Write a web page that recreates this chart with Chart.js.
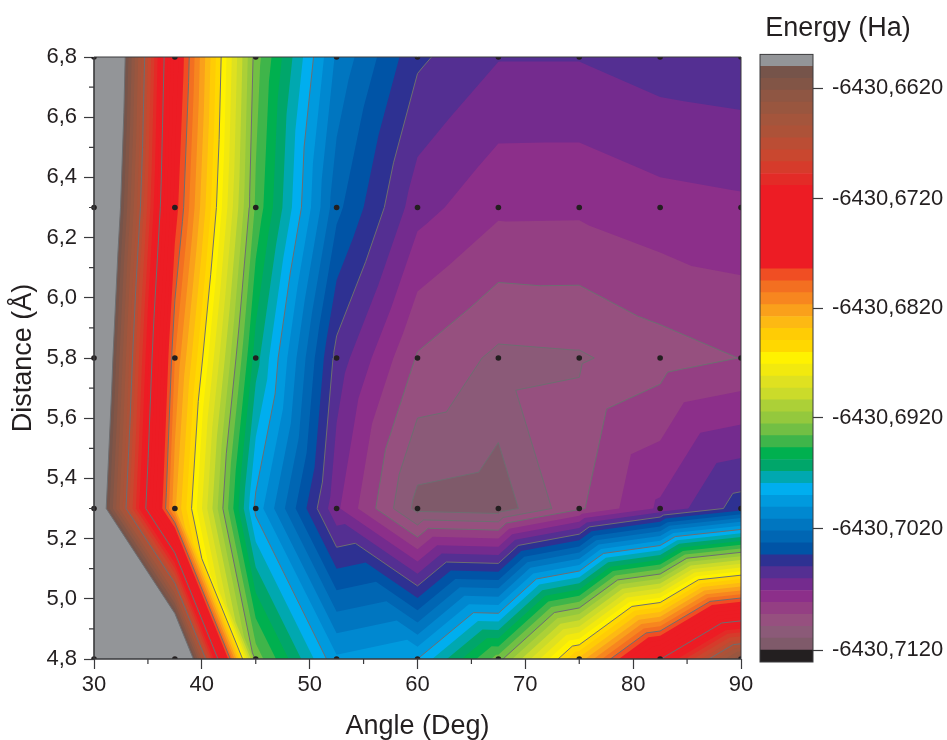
<!DOCTYPE html>
<html>
<head>
<meta charset="utf-8">
<script src="https://cdn.jsdelivr.net/npm/chart.js@4"></script>
<style>
html,body{margin:0;padding:0;background:#fff;width:947px;height:740px;overflow:hidden}
canvas{position:absolute;top:0}
#plot{left:0}
#bar{left:729px}
</style>
</head>
<body>
<canvas id="plot" width="947" height="740"></canvas>
<canvas id="bar" width="218" height="740"></canvas>
<script>
const angles = [30, 37.5, 45, 52.5, 60, 67.5, 75, 82.5, 90];
const distances = [4.8, 5.3, 5.8, 6.3, 6.8];
const energy48 = [-6430.6378, -6430.65052, -6430.69228, -6430.69907, -6430.69822, -6430.69239, -6430.68306, -6430.67289, -6430.66218];
const energy53 = [-6430.65614, -6430.68211, -6430.69854, -6430.70649, -6430.71131, -6430.71158, -6430.70900, -6430.70649, -6430.70405];
const energy58 = [-6430.65391, -6430.68020, -6430.69562, -6430.70500, -6430.70893, -6430.71012, -6430.71001, -6430.70931, -6430.70880];
const energy63 = [-6430.65158, -6430.67744, -6430.69313, -6430.70214, -6430.70628, -6430.70753, -6430.70755, -6430.70710, -6430.70691];
const energy68 = [-6430.64988, -6430.67628, -6430.69239, -6430.70055, -6430.70437, -6430.70558, -6430.70558, -6430.70511, -6430.70495];
const energyRows = [energy48, energy53, energy58, energy63, energy68];

const xMajor = [30, 40, 50, 60, 70, 80, 90];
const xMinor = [35, 45, 55, 65, 75, 85];
const yMajor = [4.8, 5.0, 5.2, 5.4, 5.6, 5.8, 6.0, 6.2, 6.4, 6.6, 6.8];
const yMinor = [4.9, 5.1, 5.3, 5.5, 5.7, 5.9, 6.1, 6.3, 6.5, 6.7];

const levelBase = -6430.712;
const levelStep = 0.00106;
const levelCount = 50;
const linedLevels = [1, 2, 3, 7, 13, 19, 25, 31, 37, 43, 49];

const bandColors = ['#231f20','#7f5a6a','#8b5a78','#96507f','#943f83','#8c2f8a','#742b8e','#542f92','#2e3192','#0054a6',
 '#0066b3','#0076c0','#0088d0','#009ade','#00aeef','#00a8b0','#00a66a','#00b04f','#3fb54a','#72bf44',
 '#94c83d','#acd037','#cbdb2a','#dfe120','#f2e90e','#fff200','#ffd800','#ffcc05','#fdb913','#faa01b',
 '#f7861f','#f36f21','#f04e23','#ed1c24','#ed1c24','#ed1c24','#ed1c24','#ed1c24','#ed1c24','#ed1c24',
 '#e32b27','#d63b2b','#c9472f','#bb4d34','#ad5238','#a4553c','#99563f','#8f5643','#825546','#76544a','#939598'];

const barTickPos = [48.15, 38.9, 29.7, 20.5, 11.2, 1.0];
const barTickLabels = ['-6430,6620','-6430,6720','-6430,6820','-6430,6920','-6430,7020','-6430,7120'];

const INK = '#231f20';
const FONT = '"Liberation Sans", Arial, sans-serif';
const levelValue = k => levelBase + k * levelStep;

// triangles of the grid, with the diagonal running from upper-left to lower-right
function gridTriangles() {
  const out = [];
  for (let j = 0; j < distances.length - 1; j++) {
    for (let i = 0; i < angles.length - 1; i++) {
      const p = (a, b) => ({x: angles[a], y: distances[b], v: energyRows[b][a]});
      out.push([p(i, j + 1), p(i + 1, j + 1), p(i + 1, j)]);
      out.push([p(i, j + 1), p(i, j), p(i + 1, j)]);
    }
  }
  return out;
}
const triangles = gridTriangles();
const cross = (a, b, L) => {
  const t = (L - a.v) / (b.v - a.v);
  return {x: a.x + (b.x - a.x) * t, y: a.y + (b.y - a.y) * t};
};
function clipAbove(tri, L) {
  const out = [];
  for (let i = 0; i < 3; i++) {
    const a = tri[i], b = tri[(i + 1) % 3];
    if (a.v >= L) out.push(a);
    if ((a.v >= L) !== (b.v >= L)) out.push(cross(a, b, L));
  }
  return out;
}
function contourPoints(L) {
  const pts = [];
  triangles.forEach(tri => {
    const seg = [];
    for (let i = 0; i < 3; i++) {
      const a = tri[i], b = tri[(i + 1) % 3];
      if ((a.v >= L) !== (b.v >= L)) seg.push(cross(a, b, L));
    }
    if (seg.length === 2) pts.push(seg[0], seg[1], {x: NaN, y: NaN});
  });
  return pts;
}

const contourFill = {
  id: 'contourFill',
  beforeDatasetsDraw(chart) {
    const {ctx, chartArea: c, scales: {x, y}} = chart;
    ctx.save();
    ctx.beginPath();
    ctx.rect(c.left, c.top, c.width, c.height);
    ctx.clip();
    ctx.fillStyle = bandColors[0];
    ctx.fillRect(c.left, c.top, c.width, c.height);
    for (let k = 0; k < levelCount; k++) {
      const L = levelValue(k);
      ctx.beginPath();
      triangles.forEach(tri => {
        const poly = clipAbove(tri, L);
        if (poly.length < 3) return;
        poly.forEach((q, n) => {
          const px = x.getPixelForValue(q.x), py = y.getPixelForValue(q.y);
          if (n === 0) ctx.moveTo(px, py); else ctx.lineTo(px, py);
        });
        ctx.closePath();
      });
      ctx.fillStyle = bandColors[k + 1];
      ctx.fill();
    }
    ctx.restore();
  },
  afterDatasetsDraw(chart) {
    const {ctx, chartArea: c, scales: {x, y}} = chart;
    ctx.save();
    ctx.strokeStyle = '#3a3a3c';
    ctx.lineWidth = 1;
    ctx.beginPath();
    ctx.moveTo(c.left, c.top); ctx.lineTo(c.right, c.top); ctx.lineTo(c.right, c.bottom);
    ctx.stroke();
    ctx.lineWidth = 1.6;
    ctx.beginPath();
    ctx.moveTo(c.left, c.top); ctx.lineTo(c.left, c.bottom); ctx.lineTo(c.right, c.bottom);
    ctx.stroke();
    ctx.lineWidth = 1.2;
    ctx.beginPath();
    xMinor.forEach(v => { const p = x.getPixelForValue(v); ctx.moveTo(p, c.bottom); ctx.lineTo(p, c.bottom + 5); });
    yMinor.forEach(v => { const p = y.getPixelForValue(v); ctx.moveTo(c.left, p); ctx.lineTo(c.left - 5, p); });
    ctx.stroke();
    ctx.restore();
  }
};

const gridDots = [];
distances.forEach((d, j) => angles.forEach((a, i) => gridDots.push({x: a, y: d, energy: energyRows[j][i]})));

const lineSets = linedLevels.map(k => ({
  type: 'scatter',
  label: 'Contour ' + levelValue(k).toFixed(4),
  data: contourPoints(levelValue(k)),
  showLine: true, spanGaps: false, fill: false, tension: 0,
  pointRadius: 0, pointHoverRadius: 0,
  borderColor: '#6d6e71', borderWidth: 1, order: 2
}));

new Chart(document.getElementById('plot'), {
  type: 'scatter',
  data: {datasets: [
    {label: 'Computed points', data: gridDots, showLine: false, pointRadius: 2.8, pointBorderWidth: 0,
     pointBackgroundColor: INK, order: 1, clip: {left: 4, top: 0, right: 0, bottom: 0}},
    ...lineSets
  ]},
  plugins: [contourFill],
  options: {
    responsive: false, animation: false, events: [],
    layout: {padding: {left: 0, top: 57, right: 206, bottom: 0}},
    plugins: {legend: {display: false}, tooltip: {enabled: false}},
    scales: {
      x: {
        type: 'linear', position: 'bottom', min: 30, max: 90,
        afterBuildTicks: s => { s.ticks = xMajor.map(value => ({value})); },
        afterFit: s => { s.height = 81; },
        border: {display: false},
        grid: {drawOnChartArea: false, tickLength: 10, tickColor: '#3a3a3c', tickWidth: 1.2},
        ticks: {color: INK, font: {family: FONT, size: 22}, padding: 3, maxRotation: 0, autoSkip: false,
                callback: v => String(v)},
        title: {display: true, text: 'Angle (Deg)', color: INK, font: {family: FONT, size: 27, lineHeight: 1},
                padding: {top: 0, bottom: 0}}
      },
      y: {
        type: 'linear', position: 'left', min: 4.8, max: 6.8,
        afterBuildTicks: s => { s.ticks = yMajor.map(value => ({value})); },
        afterFit: s => { s.width = 94; },
        border: {display: false},
        grid: {drawOnChartArea: false, tickLength: 10, tickColor: '#3a3a3c', tickWidth: 1.2},
        ticks: {color: INK, font: {family: FONT, size: 22}, padding: 7, autoSkip: false,
                callback: v => Number(v).toFixed(1).replace('.', ',')},
        title: {display: true, text: 'Distance (Å)', color: INK, font: {family: FONT, size: 27, lineHeight: 1},
                padding: {top: 10, bottom: 0}}
      }
    }
  }
});

const barOutline = {
  id: 'barOutline',
  afterDatasetsDraw(chart) {
    const {ctx, chartArea: c} = chart;
    ctx.save();
    ctx.strokeStyle = '#3a3a3c';
    ctx.lineWidth = 1;
    ctx.strokeRect(c.left, c.top, c.width, c.height);
    ctx.restore();
  }
};

new Chart(document.getElementById('bar'), {
  type: 'bar',
  data: {
    labels: ['Energy'],
    datasets: bandColors.map((color, i) => ({
      label: 'Band ' + i,
      data: [[i, i + 1]],
      yAxisID: 'y',
      backgroundColor: color,
      borderWidth: 0,
      barPercentage: 1,
      categoryPercentage: 1,
      grouped: false
    }))
  },
  plugins: [barOutline],
  options: {
    responsive: false, animation: false, events: [],
    layout: {padding: {left: 0, top: 0, right: 0, bottom: 78}},
    plugins: {
      legend: {display: false}, tooltip: {enabled: false},
      title: {display: true, text: 'Energy (Ha)', color: INK, font: {family: FONT, size: 27, weight: 'normal', lineHeight: 1.2},
              padding: {top: 12, bottom: 10}}
    },
    scales: {
      x: {display: false},
      spacer: {
        type: 'linear', position: 'left', min: 0, max: 1,
        afterFit: s => { s.width = 31; },
        border: {display: false},
        grid: {display: false, drawTicks: false},
        ticks: {display: false}
      },
      y: {
        type: 'linear', position: 'right', min: 0, max: bandColors.length,
        afterBuildTicks: s => { s.ticks = barTickPos.map(value => ({value})); },
        afterFit: s => { s.width = 134; },
        border: {display: false},
        grid: {drawOnChartArea: false, tickLength: 10, tickColor: '#3a3a3c', tickWidth: 1.2},
        ticks: {color: INK, font: {family: FONT, size: 22}, padding: 9, autoSkip: false,
                callback: v => barTickLabels[barTickPos.indexOf(v)]}
      }
    }
  }
});
</script>
</body>
</html>
